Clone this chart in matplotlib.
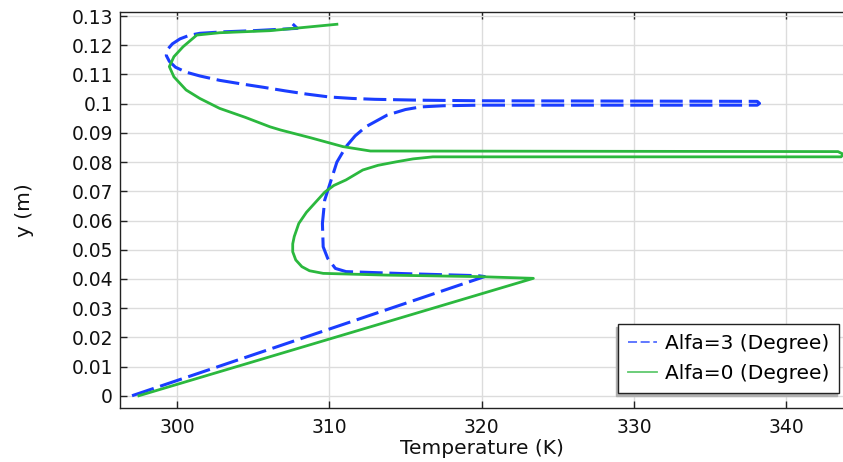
import matplotlib
matplotlib.use("Agg")
import matplotlib.pyplot as plt
from matplotlib.lines import Line2D
from matplotlib.ticker import FuncFormatter

# ---- data ----
blue_label = "Alfa=3 (Degree)"
blue_T = [297.05, 320.2, 319.8, 315.0, 311.1, 310.4, 309.9, 309.6, 309.55, 309.7, 310.1,
          310.5, 311.1, 311.7, 312.4, 313.8, 315.0, 316.0, 317.5, 319.9, 338.1, 338.25, 338.1,
          320.0, 316.0, 313.0, 311.5, 310.0, 308.5, 307.1, 305.7, 304.2, 302.8, 301.5,
          300.6, 299.9, 299.5, 299.3, 299.35, 299.7, 300.2, 300.8, 301.5, 303.0, 305.0,
          307.9, 307.6]
blue_y = [0.0, 0.0408, 0.0411, 0.0418, 0.0425, 0.0436, 0.0470, 0.0510, 0.0590, 0.0670, 0.0735,
          0.0800, 0.0853, 0.0890, 0.0921, 0.0961, 0.0980, 0.0989, 0.0993, 0.0995, 0.0995, 0.1001,
          0.1008, 0.1010, 0.1012, 0.1015, 0.1018, 0.1023, 0.1033, 0.1044, 0.1056, 0.1068, 0.1080,
          0.1095, 0.1108, 0.1125, 0.1145, 0.1165, 0.1184, 0.1205, 0.1222, 0.1234, 0.1241,
          0.1246, 0.1250, 0.1258, 0.1273]

green_label = "Alfa=0 (Degree)"
green_T = [297.5, 323.4, 319.7, 313.8, 309.6, 308.7, 308.2, 307.8, 307.6, 307.6, 307.7,
           308.0, 308.5, 309.7, 310.3, 311.1, 312.2, 313.2, 314.4, 315.5, 316.8, 343.6,
           343.75, 343.4, 312.7, 310.9, 308.8, 306.8, 306.1, 304.5, 302.8, 301.5, 300.6,
           299.8, 299.5, 299.8, 300.4, 301.3, 302.8, 306.1, 310.5]
green_y = [0.0, 0.0402, 0.0408, 0.0413, 0.0419, 0.0428, 0.0442, 0.0465, 0.0493, 0.0520, 0.0545,
           0.0590, 0.0628, 0.0697, 0.0720, 0.0739, 0.0773, 0.0789, 0.0801, 0.0811, 0.0818,
           0.0818, 0.0827, 0.0836, 0.0838, 0.0853, 0.0883, 0.0910, 0.0921, 0.0953, 0.0984,
           0.1018, 0.1047, 0.1092, 0.1127, 0.1161, 0.1195, 0.1235, 0.1243, 0.1250, 0.1272]

x_ticks = [300, 310, 320, 330, 340]
y_ticks = [round(0.01 * i, 2) for i in range(14)]

blue_c = "#1a3dff"
green_c = "#2bb83e"

fig = plt.figure(figsize=(8.43, 4.62), dpi=100)
ax = fig.add_axes([120 / 843, 1 - 408 / 462, 723 / 843, 396 / 462])

ax.plot(blue_T, blue_y, color=blue_c, lw=2.2, dashes=(7.5, 2.2), zorder=3)
ax.plot(green_T, green_y, color=green_c, lw=2.0, zorder=3)

ax.set_xlim(296.26, 343.73)
ax.set_ylim(-0.0042, 0.1314)
ax.set_xticks(x_ticks)
ax.set_yticks(y_ticks)
ax.yaxis.set_major_formatter(FuncFormatter(lambda v, p: f"{round(v, 2):g}"))

ax.grid(True, color="#dcdcdc", lw=1.0, zorder=0)
ax.set_axisbelow(True)
for s in ["left", "bottom", "top"]:
    ax.spines[s].set_color("#222222")
    ax.spines[s].set_linewidth(1.0)
ax.spines["right"].set_visible(False)

ax.tick_params(axis="both", direction="in", length=5, width=1, labelsize=13.5, colors="#222222",
               labelcolor="#111111")
ax.tick_params(axis="x", top=True, pad=7)
ax.tick_params(axis="y", right=False, pad=5)

ax.set_xlabel("Temperature (K)", fontsize=14.5, labelpad=2, color="#111111")
ax.set_ylabel("y (m)", fontsize=14.5, labelpad=27, color="#111111")

handles = [Line2D([], [], color=blue_c, lw=1.3, dashes=(5, 2), alpha=0.75),
           Line2D([], [], color=green_c, lw=1.3, alpha=0.75)]
leg = ax.legend(handles, [blue_label, green_label], loc="lower right",
                bbox_to_anchor=(0.9945, 0.038), borderaxespad=0, fontsize=14.5,
                fancybox=False, shadow={"ox": -1.6, "oy": -2.2, "color": "#b0b0b0", "alpha": 1},
                framealpha=1, edgecolor="#222222", handlelength=1.4, handletextpad=0.4,
                borderpad=0.5, labelspacing=0.55)
leg.get_frame().set_linewidth(1.0)

fig.savefig("out.png", dpi=100)
